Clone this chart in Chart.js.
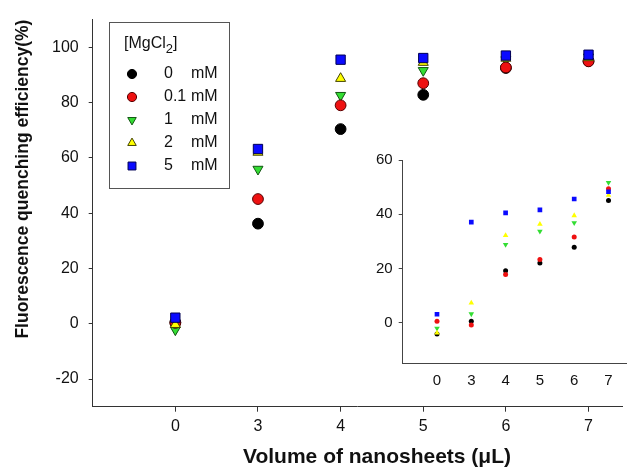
<!DOCTYPE html>
<html>
<head>
<meta charset="utf-8">
<script src="https://cdn.jsdelivr.net/npm/chart.js@4.4.0/dist/chart.umd.min.js"></script>
<style>
html, body { margin: 0; padding: 0; background: #fff; }
#wrap { position: relative; width: 630px; height: 468px; }
#mainChart { position: absolute; left: 0; top: 0; }
#insetChart { position: absolute; left: 360px; top: 140px; }
</style>
</head>
<body>
<div id="wrap">
  <canvas id="mainChart" width="630" height="468" style="width:630px;height:468px"></canvas>
  <canvas id="insetChart" width="270" height="260" style="width:270px;height:260px"></canvas>
</div>
<script>
// x categories (volume of nanosheets, uL)
const volumes = ['0', '3', '4', '5', '6', '7'];
const concLabels = ['0', '0.1', '1', '2', '5'];
const yTicks = [-20, 0, 20, 40, 60, 80, 100];
const insetYTicks = [0, 20, 40, 60];

// main plot, quenching efficiency (%)
const mg0 = [0.5, 36.2, 70.4, 82.8, 92.5, 95.0];
const mg01 = [0.3, 45.1, 79.0, 87.0, 92.7, 94.9];
const mg1 = [-2.2, 55.9, 82.6, 91.6, 95.5, 96.5];
const mg2 = [-0.3, 62.0, 88.7, 94.5, 96.0, 96.2];
const mg5 = [2.2, 63.2, 95.5, 96.1, 97.0, 97.3];

// inset plot
const in0 = [-4.2, 0.5, 19.1, 22.0, 27.8, 45.1];
const in01 = [0.5, -0.9, 17.8, 23.3, 31.6, 49.4];
const in1 = [-2.1, 3.2, 28.8, 33.7, 36.8, 51.7];
const in2 = [-3.8, 7.3, 32.2, 36.3, 39.5, 47.0];
const in5 = [3.1, 37.1, 40.5, 41.6, 45.6, 48.3];

const fam = '"Liberation Sans", Arial, sans-serif';
Chart.defaults.font.family = fam;
Chart.defaults.color = '#111';

const fills = ['#000000', '#ee1111', '#33dd33', '#ffff00', '#0a0aff'];
const borders = ['#000000', '#550000', '#115511', '#444400', '#000055'];
const shapes = ['circle', 'circle', 'triangle', 'triangle', 'rect'];
const turns = [0, 0, 180, 0, 0];
const bigRadius = [5.4, 5.4, 5.8, 5.8, 6.6];
const smallRadius = [2.5, 2.5, 3.2, 3.2, 3.3];
const drawOrder = [4, 2, 3, 1, 0];

function pts(arr) {
    return arr.map((v, i) => ({ x: i, y: v }));
}

function makeSets(series, small) {
    return series.map((s, i) => ({
        label: concLabels[i] + ' mM',
        data: pts(s),
        backgroundColor: fills[i],
        borderColor: small ? fills[i] : borders[i],
        borderWidth: small ? 0 : 1,
        pointStyle: shapes[i],
        pointRotation: turns[i],
        pointRadius: small ? smallRadius[i] : bigRadius[i],
        order: drawOrder[i]
    }));
}

// legend box + x title drawn on the main canvas
const extras = {
    id: 'extras',
    afterDraw(chart) {
        const ctx = chart.ctx;
        ctx.save();
        ctx.strokeStyle = '#555';
        ctx.lineWidth = 1;
        ctx.strokeRect(109.5, 22.5, 120, 166);
        ctx.fillStyle = '#111';
        ctx.textBaseline = 'middle';
        ctx.font = '16px ' + fam;
        let x = 124;
        ctx.fillText('[MgCl', x, 44);
        x += ctx.measureText('[MgCl').width;
        ctx.font = '13px ' + fam;
        ctx.fillText('2', x, 49);
        x += ctx.measureText('2').width;
        ctx.font = '16px ' + fam;
        ctx.fillText(']', x, 44);

        chart.data.datasets.forEach((ds, i) => {
            const y = 74 + i * 23;
            ctx.fillStyle = ds.backgroundColor;
            ctx.strokeStyle = ds.borderColor;
            ctx.lineWidth = 1;
            Chart.helpers.drawPoint(ctx, {
                pointStyle: ds.pointStyle,
                radius: ds.pointRadius * 0.85,
                rotation: ds.pointRotation,
                borderWidth: 1
            }, 132, y);
            ctx.fillStyle = '#111';
            ctx.fillText(concLabels[i], 164, y);
            ctx.fillText('mM', 191, y);
        });

        ctx.font = 'bold 21px ' + fam;
        ctx.textAlign = 'center';
        ctx.fillText('Volume of nanosheets (μL)', 377, 457);
        ctx.restore();
    }
};

new Chart(document.getElementById('mainChart'), {
    type: 'scatter',
    data: { datasets: makeSets([mg0, mg01, mg1, mg2, mg5], false) },
    options: {
        responsive: false,
        animation: false,
        layout: { padding: { top: 14.7, right: 0, left: 0, bottom: 0 } },
        plugins: { legend: { display: false }, tooltip: { enabled: false } },
        scales: {
            x: {
                type: 'linear',
                min: -1,
                max: 5.41,
                afterBuildTicks: s => { s.ticks = volumes.map((_, i) => ({ value: i })); },
                afterFit: s => { s.height = 61.3; },
                ticks: {
                    callback: v => volumes[v],
                    font: { size: 16 },
                    color: '#111',
                    padding: 5,
                    maxRotation: 0,
                    autoSkip: false
                },
                grid: { drawOnChartArea: false, drawTicks: true, tickLength: 5, color: '#333' },
                border: { color: '#333', width: 1 }
            },
            y: {
                min: -30,
                max: 110,
                afterBuildTicks: s => { s.ticks = yTicks.map(v => ({ value: v })); },
                afterFit: s => { s.width = 92.7; },
                ticks: { font: { size: 16 }, color: '#111', padding: 10 },
                grid: { drawOnChartArea: false, drawTicks: true, tickLength: 4, color: '#333' },
                border: { color: '#333', width: 1 },
                title: {
                    display: true,
                    text: 'Fluorescence quenching efficiency(%)',
                    align: 'end',
                    font: { size: 17.5, weight: 'bold' },
                    color: '#111',
                    padding: { top: 13, bottom: 0 }
                }
            }
        }
    },
    plugins: [extras]
});

new Chart(document.getElementById('insetChart'), {
    type: 'scatter',
    data: { datasets: makeSets([in0, in01, in1, in2, in5], true) },
    options: {
        responsive: false,
        animation: false,
        layout: { padding: { top: 20, right: 3, left: 0, bottom: 0 } },
        plugins: { legend: { display: false }, tooltip: { enabled: false } },
        scales: {
            x: {
                type: 'linear',
                min: -1,
                max: 5.51,
                afterBuildTicks: s => { s.ticks = volumes.map((_, i) => ({ value: i })); },
                afterFit: s => { s.height = 36.7; },
                ticks: {
                    callback: v => volumes[v],
                    font: { size: 15 },
                    color: '#111',
                    padding: 9,
                    maxRotation: 0,
                    autoSkip: false
                },
                grid: { drawOnChartArea: false, drawTicks: false },
                border: { color: '#444', width: 1 }
            },
            y: {
                min: -15,
                max: 60,
                afterBuildTicks: s => { s.ticks = insetYTicks.map(v => ({ value: v })); },
                afterFit: s => { s.width = 42.7; },
                ticks: { font: { size: 15 }, color: '#111', padding: 6 },
                grid: { drawOnChartArea: false, drawTicks: true, tickLength: 4, color: '#444' },
                border: { color: '#444', width: 1 }
            }
        }
    }
});
</script>
</body>
</html>
